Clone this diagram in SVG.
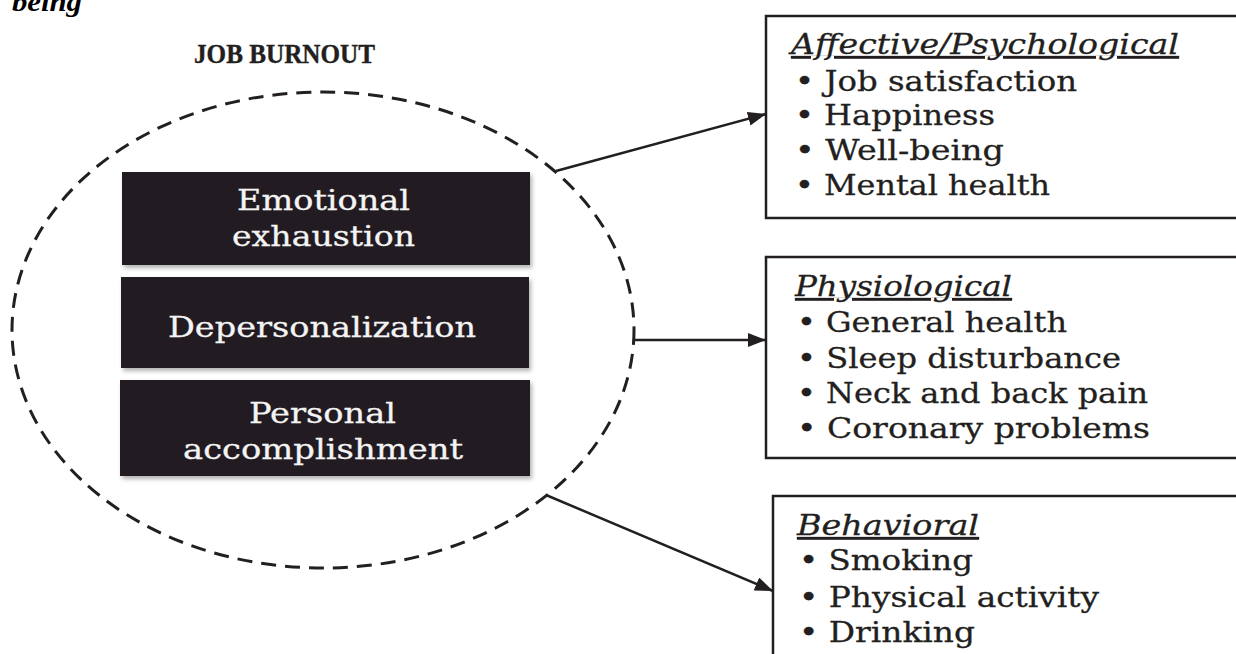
<svg xmlns="http://www.w3.org/2000/svg" width="1236" height="654" viewBox="0 0 1236 654">
  <style>
    .serif { font-family: "Liberation Serif", "DejaVu Serif", serif; }
    .dim { fill: #231f20; filter: url(#shadow); }
    .dimtext { font-family: "DejaVu Serif", "Liberation Serif", serif; font-size: 28px; fill: #f4f4f4; stroke: #f4f4f4; stroke-width: 0.3; }
    .outbox { fill: #ffffff; stroke: #231f20; stroke-width: 2.5; }
    .head { font-family: "DejaVu Serif", "Liberation Serif", serif; font-size: 27px; font-style: italic; fill: #231f20; text-decoration: underline; stroke: #231f20; stroke-width: 0.3; }
    .item { font-family: "DejaVu Serif", "Liberation Serif", serif; font-size: 27px; fill: #231f20; stroke: #231f20; stroke-width: 0.3; }
    .conn { stroke: #231f20; stroke-width: 2.5; fill: none; marker-end: url(#arrow); }
  </style>
  <defs>
    <filter id="shadow" x="-5%" y="-10%" width="112%" height="130%">
      <feDropShadow dx="2" dy="3" stdDeviation="2" flood-color="#000" flood-opacity="0.3"/>
    </filter>
    <marker id="arrow" markerUnits="userSpaceOnUse" markerWidth="20" markerHeight="16" refX="18" refY="7" orient="auto">
      <path d="M0,0 L18,7 L0,14 Z" fill="#231f20"/>
    </marker>
  </defs>

  <rect width="1236" height="654" fill="#ffffff"/>

  <!-- caption fragment at the top edge -->
  <text x="12" y="11" font-family="Liberation Serif, serif" font-size="27" font-weight="bold" font-style="italic" fill="#000" textLength="70" lengthAdjust="spacingAndGlyphs">being</text>

  <!-- burnout construct -->
  <g id="job-burnout">
    <text class="serif" x="194" y="63" font-size="28" font-weight="bold" fill="#231f20" stroke="#231f20" stroke-width="0.4" textLength="181" lengthAdjust="spacingAndGlyphs">JOB BURNOUT</text>
    <ellipse cx="323" cy="330" rx="311" ry="238" fill="none" stroke="#231f20" stroke-width="3" stroke-dasharray="15 9"/>
  </g>

  <g id="emotional-exhaustion">
    <rect class="dim" x="122" y="172" width="408" height="93"/>
    <text class="dimtext" x="237" y="210" textLength="173" lengthAdjust="spacingAndGlyphs">Emotional</text>
    <text class="dimtext" x="232" y="246" textLength="183" lengthAdjust="spacingAndGlyphs">exhaustion</text>
  </g>

  <g id="depersonalization">
    <rect class="dim" x="121" y="277" width="408" height="91"/>
    <text class="dimtext" x="168" y="337" textLength="308" lengthAdjust="spacingAndGlyphs">Depersonalization</text>
  </g>

  <g id="personal-accomplishment">
    <rect class="dim" x="120" y="380" width="410" height="96"/>
    <text class="dimtext" x="249" y="423" textLength="147" lengthAdjust="spacingAndGlyphs">Personal</text>
    <text class="dimtext" x="183" y="459" textLength="280" lengthAdjust="spacingAndGlyphs">accomplishment</text>
  </g>

  <!-- outcome groups -->
  <g id="affective-psychological">
    <rect class="outbox" x="766" y="16" width="480" height="202"/>
    <text class="head" x="791" y="54" textLength="388" lengthAdjust="spacingAndGlyphs">Affective/Psychological</text>
    <text class="item" x="795" y="91" textLength="282" lengthAdjust="spacingAndGlyphs">• Job satisfaction</text>
    <text class="item" x="795" y="125" textLength="200" lengthAdjust="spacingAndGlyphs">• Happiness</text>
    <text class="item" x="795" y="160" textLength="209" lengthAdjust="spacingAndGlyphs">• Well-being</text>
    <text class="item" x="795" y="195" textLength="255" lengthAdjust="spacingAndGlyphs">• Mental health</text>
  </g>

  <g id="physiological">
    <rect class="outbox" x="766" y="257" width="480" height="201"/>
    <text class="head" x="795" y="296" textLength="217" lengthAdjust="spacingAndGlyphs">Physiological</text>
    <text class="item" x="797" y="332" textLength="270" lengthAdjust="spacingAndGlyphs">• General health</text>
    <text class="item" x="797" y="368" textLength="324" lengthAdjust="spacingAndGlyphs">• Sleep disturbance</text>
    <text class="item" x="797" y="403" textLength="351" lengthAdjust="spacingAndGlyphs">• Neck and back pain</text>
    <text class="item" x="797" y="438" textLength="353" lengthAdjust="spacingAndGlyphs">• Coronary problems</text>
  </g>

  <g id="behavioral">
    <rect class="outbox" x="773" y="496" width="480" height="200"/>
    <text class="head" x="797" y="535" textLength="182" lengthAdjust="spacingAndGlyphs">Behavioral</text>
    <text class="item" x="799" y="570" textLength="174" lengthAdjust="spacingAndGlyphs">• Smoking</text>
    <text class="item" x="799" y="607" textLength="300" lengthAdjust="spacingAndGlyphs">• Physical activity</text>
    <text class="item" x="799" y="642" textLength="176" lengthAdjust="spacingAndGlyphs">• Drinking</text>
  </g>

  <!-- connectors from the burnout circle to outcome groups -->
  <g id="connectors">
    <line class="conn" x1="556" y1="171" x2="766" y2="114"/>
    <line class="conn" x1="634" y1="340" x2="766" y2="340"/>
    <line class="conn" x1="546" y1="495" x2="773" y2="591"/>
  </g>
</svg>
